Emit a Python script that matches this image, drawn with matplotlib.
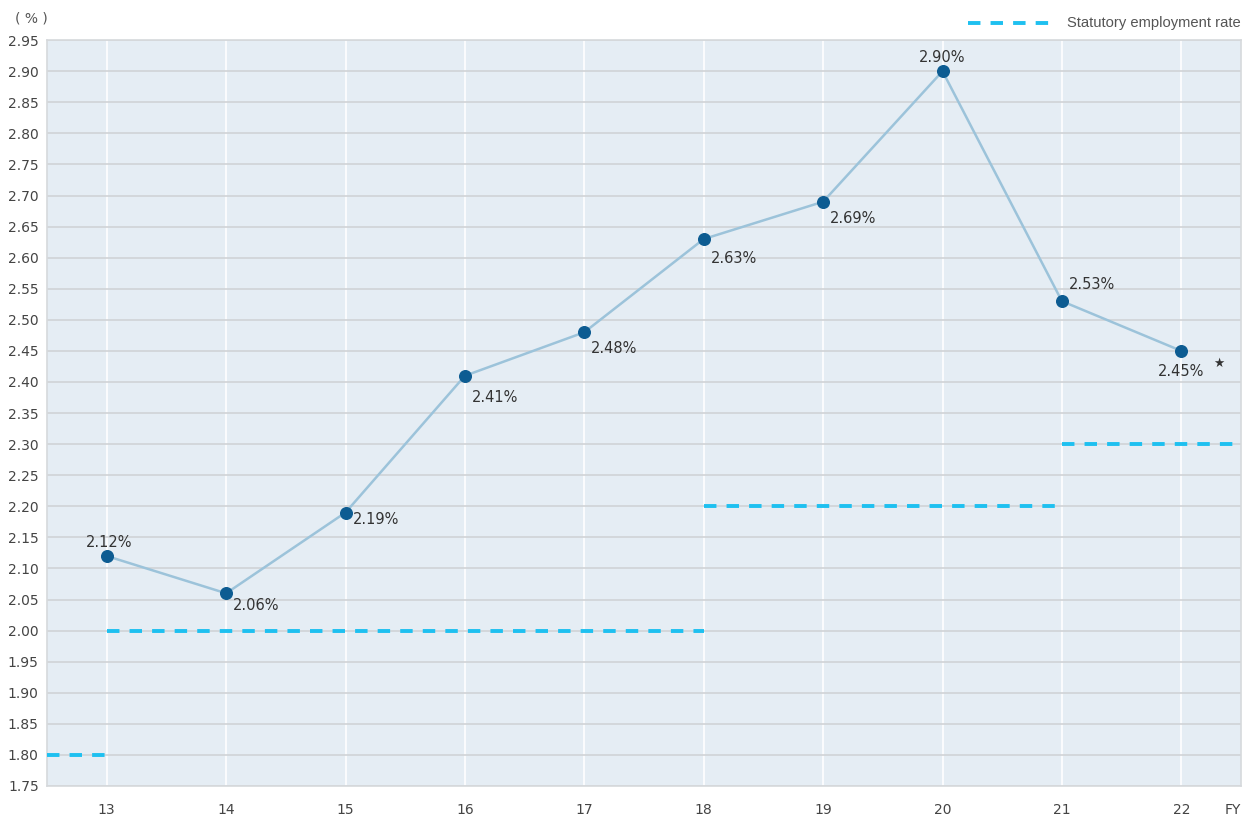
import matplotlib.pyplot as plt

# data
years = [13, 14, 15, 16, 17, 18, 19, 20, 21, 22]
rates = [2.12, 2.06, 2.19, 2.41, 2.48, 2.63, 2.69, 2.90, 2.53, 2.45]
labels = ['2.12%', '2.06%', '2.19%', '2.41%', '2.48%', '2.63%', '2.69%', '2.90%', '2.53%', '2.45%']

# statutory employment rate: (start, end, rate)
stat_start = [12.5, 13, 18, 21]
stat_end = [13, 18, 21, 22.5]
stat_rate = [1.80, 2.00, 2.20, 2.30]

# label offsets in points (dx, dy) and alignment
offsets = [(-20, 10), (0, -9), (0, -5), (0, -16), (0, -12), (0, -14), (0, -12), (0, 10), (0, 12), (0, -15)]
aligns = ['left', 'left', 'left', 'left', 'left', 'left', 'left', 'center', 'left', 'center']

plt.rcParams['font.family'] = ['DejaVu Sans']

fig = plt.figure(figsize=(12.51, 8.19), dpi=100)
ax = fig.add_axes([0.0376, 0.0403, 0.9544, 0.9107])
ax.set_facecolor('#e5edf4')

for s, e, r in zip(stat_start, stat_end, stat_rate):
    ax.plot([s, e], [r, r], color='#1ec0f0', lw=2.8, dashes=(3.2, 2.6), zorder=3, solid_capstyle='butt')

ax.plot(years, rates, color='#9cc3da', lw=1.8, zorder=4)
ax.scatter(years, rates, s=70, color='#0d5c92', zorder=5)

for x, y, t, (dx, dy), ha in zip(years, rates, labels, offsets, aligns):
    xo = dx + (5 if ha == 'left' else 0)
    ax.annotate(t, (x, y), xytext=(xo, dy), textcoords='offset points',
                ha=ha, va='center', fontsize=10.5, color='#333333', zorder=6)
ax.annotate('\u2605', (years[-1], rates[-1]), xytext=(27, -9), textcoords='offset points',
            ha='center', va='center', fontsize=9, color='#333333')

ax.set_xlim(12.5, 22.5)
ax.set_ylim(1.75, 2.95)
ax.set_yticks([1.75 + 0.05 * i for i in range(25)])
ax.set_yticklabels(['%.2f' % (1.75 + 0.05 * i) for i in range(25)])
ax.set_xticks(years)
ax.set_xticklabels([str(y) for y in years])
ax.tick_params(length=0, labelsize=10, colors='#444444')
ax.tick_params(axis='x', pad=12)
ax.tick_params(axis='y', pad=6)

ax.grid(axis='y', color='#d0d3d6', lw=1.2)
ax.grid(axis='x', color='white', lw=1.2)
ax.set_axisbelow(True)
for sp in ax.spines.values():
    sp.set_color('#d6d9dc')
    sp.set_linewidth(1.2)

fig.text(0.012, 0.978, '( % )', fontsize=10, color='#555555', va='center')
ax.annotate('FY', (22.43, 1.75), xytext=(0, -12), textcoords='offset points',
            ha='center', va='top', fontsize=10, color='#444444')

# legend at top right, outside axes
leg_y = 0.972
fig.lines.append(plt.Line2D([0.774, 0.846], [leg_y, leg_y], transform=fig.transFigure,
                            color='#1ec0f0', lw=2.8, dashes=(3.2, 2.6)))
fig.text(0.853, leg_y, 'Statutory employment rate', fontsize=10.6, color='#555555',
         va='center', family='Liberation Sans')

fig.savefig('out.png', dpi=100, facecolor='white')
